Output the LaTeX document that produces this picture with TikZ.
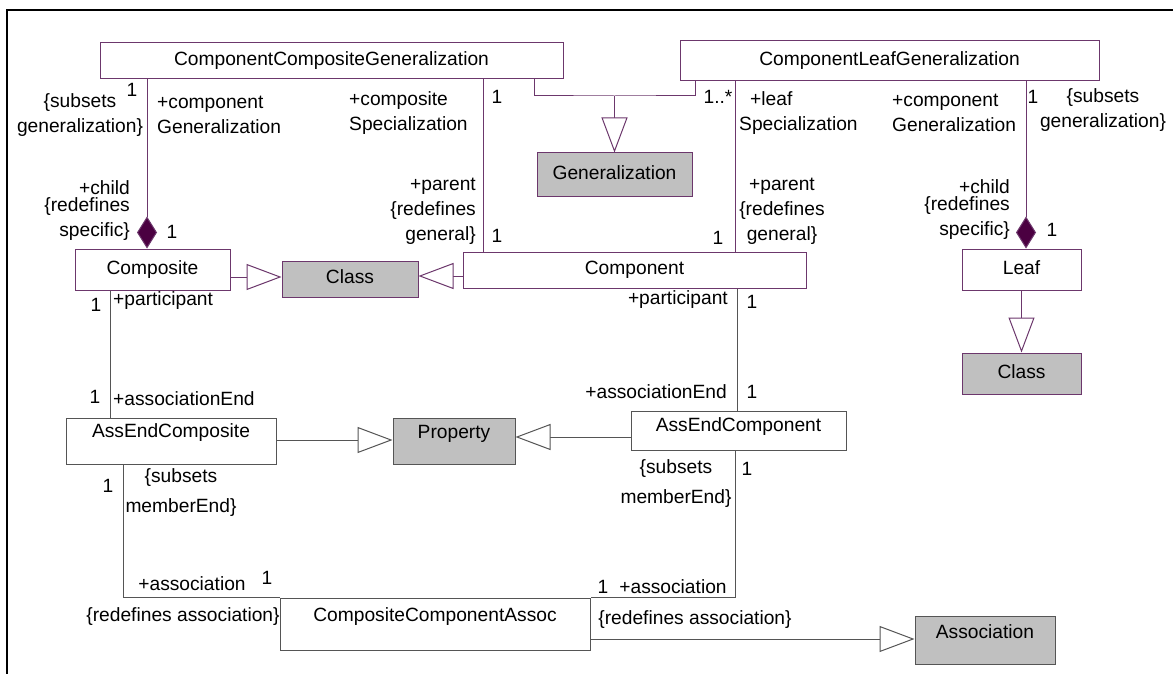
\documentclass[tikz,border=0pt]{standalone}
\usepackage{fontspec}
\setmainfont{Liberation Sans}
\usetikzlibrary{arrows.meta}
\definecolor{umlp}{RGB}{108,55,108}
\definecolor{umld}{RGB}{75,0,65}
\definecolor{umlg}{RGB}{85,85,85}
\definecolor{umlfill}{RGB}{192,192,192}
\newcommand\nmfont{\fontsize{19.2}{25}\selectfont}
\begin{document}
\begin{tikzpicture}[x=1pt,y=-1pt,
  box/.style={draw=umlp,line width=1pt,fill=white,inner sep=0pt,font=\nmfont,text height=13.5pt,text depth=4pt},
  gbox/.style={box,fill=umlfill},
  lbox/.style={box,draw=umlg},
  lbl/.style={font=\nmfont,inner sep=0pt},
  plink/.style={draw=umlp,line width=1pt},
  glink/.style={draw=umlg,line width=1pt},
  gentip/.style={-{Triangle[open,length=35pt,width=26pt,fill=white]}},
  comptip/.style={-{Diamond[length=32pt,width=20pt,fill=umld]}}]
\useasboundingbox (0,0) rectangle (1173,674);
\draw[line width=2pt] (7,674) -- (7,10) -- (1173,10);
% boxes
\node[box,minimum width=463pt,minimum height=36pt] (ccg) at (331.5,61) {ComponentCompositeGeneralization};
\node[box,minimum width=419pt,minimum height=40pt] (clg) at (889.5,61) {ComponentLeafGeneralization};
\node[gbox,minimum width=155pt,minimum height=43pt] (gen) at (614.5,174.5) {Generalization};
\node[box,minimum width=155pt,minimum height=41pt] (composite) at (152.5,269.5) {Composite};
\node[gbox,minimum width=136pt,minimum height=36pt] (class1) at (350,279) {Class};
\node[box,minimum width=343pt,minimum height=36pt] (component) at (634.5,270) {Component};
\node[box,minimum width=119pt,minimum height=41pt] (leaf) at (1021.5,269.5) {Leaf};
\node[gbox,minimum width=119pt,minimum height=41pt] (class2) at (1021.5,373.5) {Class};
\node[lbox,minimum width=210pt,minimum height=46pt,text depth=20pt] (aec) at (171,441) {AssEndComposite};
\node[lbox,fill=umlfill,minimum width=122pt,minimum height=46pt,text depth=18pt] (prop) at (454,441) {Property};
\node[lbox,minimum width=215pt,minimum height=39pt,text depth=11pt] (aecomp) at (738.5,430.5) {AssEndComponent};
\node[lbox,minimum width=310pt,minimum height=52pt,text depth=18pt] (cca) at (435,624) {CompositeComponentAssoc};
\node[lbox,fill=umlfill,minimum width=140pt,minimum height=48pt,text depth=16pt] (assoc) at (985,640) {Association};
% connectors
\coordinate (gj) at (614.5,96);
\draw[plink] (ccg.south -| 534,0) |- (gj) -| (clg.south -| 695,0);
\draw[plink,gentip] (gj) -- (gen.north);
\draw[plink,comptip] (ccg.south -| 147,0) -- (composite.north -| 147,0);
\draw[plink] (ccg.south -| 483,0) -- (component.north -| 483,0);
\draw[plink] (clg.south -| 735,0) -- (component.north -| 735,0);
\draw[plink,comptip] (clg.south -| 1026,0) -- (leaf.north -| 1026,0);
\draw[plink,gentip] (leaf.south) -- (class2.north);
\draw[plink,gentip] (composite.east |- 0,277) -- (class1.west |- 0,277);
\draw[plink,gentip] (component.west |- 0,276) -- (class1.east |- 0,276);
\draw[glink] (composite.south -| 110,0) -- (aec.north -| 110,0);
\draw[glink] (component.south -| 737,0) -- (aecomp.north -| 737,0);
\draw[glink,gentip] (aec.east |- 0,440) -- (prop.west |- 0,440);
\draw[glink,gentip] (aecomp.west |- 0,437) -- (prop.east |- 0,437);
\draw[glink] (aec.south -| 123,0) |- (cca.north west);
\draw[glink] (aecomp.south -| 735,0) |- (cca.north east);
\draw[glink,gentip] (cca.east |- 0,639) -- (assoc.west |- 0,639);
% labels
\node[lbl] (m1) at (132,90) {1};
\node[lbl,align=center] (r1) at (80,115) {\{subsets\\generalization\}};
\node[lbl,align=left,anchor=west] (r2) at (157,115) {+component\\Generalization};
\node[lbl,align=right,anchor=east] (r3) at (130,211) {+child\\[-8pt]\{redefines\\specific\}};
\node[lbl] (m2) at (172,232) {1};
\node[lbl,align=left,anchor=west] (r4) at (349,113) {+composite\\Specialization};
\node[lbl] (m3) at (497,97) {1};
\node[lbl,align=right,anchor=east] (r5) at (476,211) {+parent\\\{redefines\\general\}};
\node[lbl] (m4) at (497,236) {1};
\node[lbl] (m5) at (718,97) {1..*};
\node[lbl,align=left,anchor=west] (r6) at (739,113) {\hspace{11pt}+leaf\\Specialization};
\node[lbl,align=center] (r7) at (782,211) {+parent\\\{redefines\\general\}};
\node[lbl] (m6) at (718,238) {1};
\node[lbl] (m7) at (1033,97) {1};
\node[lbl,align=center] (r8) at (1103,110) {\{subsets\\generalization\}};
\node[lbl,align=left,anchor=west] (r9) at (892,113) {+component\\Generalization};
\node[lbl,align=right,anchor=east] (r10) at (1010,210) {+child\\[-8pt]\{redefines\\specific\}};
\node[lbl] (m8) at (1052,230) {1};
\node[lbl] (m9) at (96,305) {1};
\node[lbl,anchor=west] (r11) at (113,301) {+participant};
\node[lbl] (m10) at (95,397) {1};
\node[lbl,anchor=west] (r12) at (113,399) {+associationEnd};
\node[lbl,anchor=east] (r13) at (728,300) {+participant};
\node[lbl] (m11) at (752,302) {1};
\node[lbl,anchor=east] (r14) at (727,392) {+associationEnd};
\node[lbl] (m12) at (752,392) {1};
\node[lbl] (m13) at (108,486) {1};
\node[lbl,align=center] (r15) at (181,493) {\{subsets\\[5pt]memberEnd\}};
\node[lbl] (r16) at (192,584) {+association};
\node[lbl] (m14) at (267,578) {1};
\node[lbl] (r17) at (183,617) {\{redefines association\}};
\node[lbl,align=center] (r18) at (676,484) {\{subsets\\[5pt]memberEnd\}};
\node[lbl] (m15) at (747,469) {1};
\node[lbl] (m16) at (603,587) {1};
\node[lbl] (r19) at (673,587) {+association};
\node[lbl] (r20) at (695,620) {\{redefines association\}};
\end{tikzpicture}
\end{document}
